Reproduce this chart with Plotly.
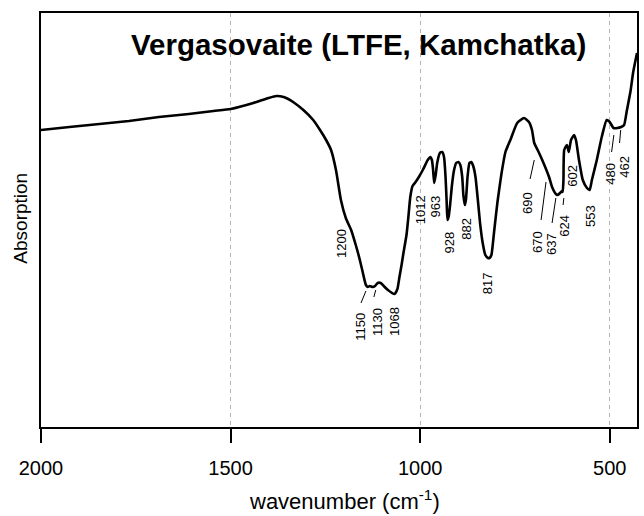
import plotly.graph_objects as go

# ---- spectrum (absorption in arbitrary units) ----
wavenumber = [2000, 1925, 1846, 1768, 1689, 1610, 1545, 1500, 1440, 1400, 1379, 1360, 1348, 1335,
              1308, 1282, 1264, 1248, 1235, 1222, 1209, 1196, 1182, 1169, 1159, 1151, 1143, 1138,
              1133, 1125, 1119, 1112, 1104, 1096, 1085, 1068, 1060, 1055, 1049, 1044, 1036, 1031,
              1026, 1020, 1012, 1005, 993, 980, 973, 969, 966, 963, 959, 955, 948, 942, 937, 933,
              930, 928, 925, 921, 916, 911, 905, 899, 894, 889, 886, 882, 879, 875, 870, 865, 860,
              854, 848, 842, 835, 828, 821, 817, 812, 805, 796, 786, 775, 762, 744, 726, 713, 705,
              699, 690, 678, 660, 652, 642, 637, 631, 626, 624, 622, 620, 613, 608, 602, 594, 589,
              581, 571, 560, 553, 547, 534, 521, 508, 500, 490, 480, 470, 462, 455, 445, 438, 428]
absorption = [297, 300, 303, 306, 310, 313, 316, 318, 324, 329, 331, 330, 328, 325,
              317, 307, 297, 287, 277, 257, 227, 209, 197, 181, 167, 154, 142, 140,
              141, 140, 141, 144, 144, 141, 137, 133, 138, 149, 162, 174, 192, 210,
              230, 241, 245, 249, 257, 267, 270, 267, 258, 244, 252, 264, 274, 275, 270, 250,
              225, 207, 210, 222, 242, 256, 264, 265, 262, 250, 232, 222, 228, 250, 264, 265, 261,
              250, 228, 204, 184, 172, 169, 169, 172, 195, 225, 252, 275, 287, 304, 309, 305, 297,
              284, 277, 267, 250, 240, 233, 232, 234, 236, 235, 247, 277, 282, 275, 287, 292, 287,
              267, 247, 239, 237, 247, 267, 290, 307, 305, 299, 299, 300, 302, 316, 336, 355, 374]

# ---- peak labels ----
peak_labels = ["1200", "1150", "1130", "1068", "1012", "963", "928", "882", "817",
               "690", "670", "637", "624", "602", "553", "480", "462"]
label_x = [1209, 1159, 1114, 1069, 1000, 962, 925, 880, 823,
           718, 692, 655, 621, 600, 552, 500, 463]
label_y = [184, 100, 105, 106, 217, 220, 184, 198, 144,
           224, 185, 183, 201, 251, 211, 253, 260]

# leader lines: (x0, y0, x1, y1) in data units
leader_x0 = [1156, 1122, 710, 681, 652, 623, 495, 474]
leader_y0 = [124, 130, 248, 207, 204, 222, 275, 284]
leader_x1 = [1143, 1117, 699, 668, 642, 621, 489, 471]
leader_y1 = [136, 137, 267, 245, 229, 229, 292, 297]

x_ticks = [2000, 1500, 1000, 500]
x_range = [2000, 428]
y_range = [0, 414]

FONT = "Arial, Liberation Sans, Helvetica, sans-serif"

fig = go.Figure()
fig.add_trace(go.Scatter(
    x=wavenumber, y=absorption, mode="lines",
    line=dict(color="black", width=2.6, shape="spline", smoothing=0.5),
    showlegend=False, hoverinfo="skip"))

for t, x, y in zip(peak_labels, label_x, label_y):
    fig.add_annotation(x=x, y=y, xref="x", yref="y", text=t, textangle=-90,
                       showarrow=False, font=dict(family=FONT, size=13, color="black"))

for x0, y0, x1, y1 in zip(leader_x0, leader_y0, leader_x1, leader_y1):
    fig.add_shape(type="line", xref="x", yref="y", x0=x0, y0=y0, x1=x1, y1=y1,
                  line=dict(color="black", width=1))

fig.add_annotation(x=0.533, y=0.923, xref="paper", yref="paper",
                   text="<b>Vergasovaite (LTFE, Kamchatka)</b>", showarrow=False,
                   xanchor="center", yanchor="middle",
                   font=dict(family=FONT, size=29.5, color="black"))
fig.add_annotation(x=0.51, y=-0.176, xref="paper", yref="paper",
                   text="wavenumber (cm<sup>-1</sup>)", showarrow=False,
                   xanchor="center", yanchor="middle",
                   font=dict(family=FONT, size=22, color="black"))
fig.add_annotation(x=-0.034, y=0.505, xref="paper", yref="paper",
                   text="Absorption", textangle=-90, showarrow=False,
                   xanchor="center", yanchor="middle",
                   font=dict(family=FONT, size=19, color="black"))

fig.update_xaxes(range=x_range, tickvals=x_ticks, ticktext=[str(v) for v in x_ticks],
                 ticks="outside", ticklen=14, tickwidth=1.5, tickcolor="black",
                 showline=True, linecolor="black", linewidth=1.5, mirror=True,
                 showgrid=True, gridcolor="#b4b4b4", gridwidth=1, griddash="4px,4px",
                 zeroline=False, ticklabelstandoff=8,
                 tickfont=dict(family=FONT, size=20, color="black"))
fig.update_yaxes(range=y_range, showticklabels=False, ticks="",
                 showline=True, linecolor="black", linewidth=1.5, mirror=True,
                 showgrid=False, zeroline=False)

fig.update_layout(width=644, height=516, margin=dict(l=41, r=5, t=13, b=89),
                  paper_bgcolor="white", plot_bgcolor="white")

fig.write_html("out.html", config={"displayModeBar": False},
               post_script="document.body.style.margin='0';document.body.style.overflow='hidden';")
